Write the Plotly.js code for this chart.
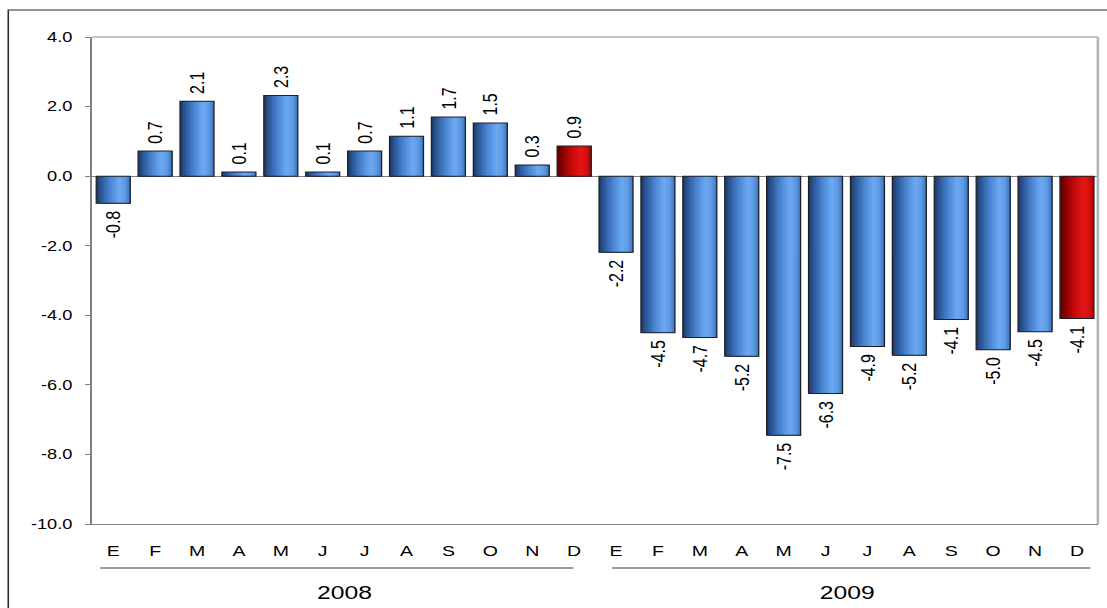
<!DOCTYPE html>
<html>
<head>
<meta charset="utf-8">
<script src="https://cdn.plot.ly/plotly-3.0.1.min.js"></script>
<style>
  html, body { margin: 0; padding: 0; background: #ffffff; overflow: hidden; }
  #wrap { width: 1107px; height: 608px; overflow: hidden; }
  #chart { width: 852px; height: 608px; transform: scaleX(1.2993); transform-origin: 0 0; }
</style>
</head>
<body>
<div id="wrap"><div id="chart"></div></div>
<script>
// ---- data ----
const months = ['E','F','M','A','M','J','J','A','S','O','N','D'];
const years = ['2008', '2009'];
const values2008 = [-0.78, 0.72, 2.15, 0.12, 2.32, 0.12, 0.72, 1.15, 1.70, 1.53, 0.32, 0.87];
const values2009 = [-2.19, -4.50, -4.64, -5.18, -7.45, -6.25, -4.90, -5.15, -4.12, -4.99, -4.47, -4.09];
const labels2008 = ['-0.8','0.7','2.1','0.1','2.3','0.1','0.7','1.1','1.7','1.5','0.3','0.9'];
const labels2009 = ['-2.2','-4.5','-4.7','-5.2','-7.5','-6.3','-4.9','-5.2','-4.1','-5.0','-4.5','-4.1'];
const yTickVals = [4, 2, 0, -2, -4, -6, -8, -10];
const yTickText = ['4.0', '2.0', '0.0', '-2.0', '-4.0', '-6.0', '-8.0', '-10.0'];

// ---- derived ----
const monthLabels = months.concat(months);
const values = values2008.concat(values2009);
const labels = labels2008.concat(labels2009);
const xs = values.map((_, i) => i);
const isRed = monthLabels.map((m, i) => (i % 12) === 11);
// small padding between bar end and its rotated label
const padded = labels.map((s, i) => values[i] >= 0 ? '\u00a0' + s : s + '\u00a0');

// ---- gradient styling (cylinder look) ----
const blueStops = [[0, [28, 56, 100]], [0.15, [44, 88, 152]], [0.42, [76, 134, 212]], [0.68, [108, 170, 242]], [0.85, [94, 154, 228]], [1, [62, 114, 188]]];
const redStops  = [[0, [88, 0, 0]], [0.15, [136, 0, 0]], [0.42, [196, 10, 10]], [0.68, [228, 22, 22]], [0.85, [214, 16, 16]], [1, [170, 0, 0]]];
function interp(stops, t) {
  for (let k = 0; k < stops.length - 1; k++) {
    const a = stops[k], b = stops[k + 1];
    if (t >= a[0] && t <= b[0]) {
      const f = (t - a[0]) / (b[0] - a[0]);
      const c = a[1].map((v, j) => Math.round(v + (b[1][j] - v) * f));
      return 'rgb(' + c.join(',') + ')';
    }
  }
  const l = stops[stops.length - 1][1];
  return 'rgb(' + l.join(',') + ')';
}

const W = 0.81;
const N = 24;
const step = W / N;
const traces = [];
for (let i = 0; i < N; i++) {
  const t = (i + 0.5) / N;
  traces.push({
    type: 'bar',
    x: xs,
    y: values,
    width: W - i * step,
    offset: -W / 2 + i * step,
    marker: { color: isRed.map(r => r ? interp(redStops, t) : interp(blueStops, t)), line: { width: 0 } },
    hoverinfo: 'skip',
    showlegend: false
  });
}
traces.push({
  type: 'bar',
  x: xs,
  y: values,
  width: W,
  offset: -W / 2,
  marker: { color: 'rgba(0,0,0,0)', line: { color: '#1e2026', width: 1 } },
  text: padded,
  textposition: 'outside',
  textangle: -90,
  constraintext: 'none',
  textfont: { family: 'Liberation Sans, Arial, sans-serif', size: 16, color: '#000' },
  cliponaxis: false,
  hoverinfo: 'skip',
  showlegend: false
});

// horizontal stretch of the picture
const S = 1107 / 852;
// plot area in picture pixels: x 92..1098, y 37..524
const L = 92, R = 1098, T = 37, B = 524;
const px = x => (x - L) / (R - L);
const py = y => (B - y) / (B - T);

const layout = {
  width: 852, height: 608,
  margin: { l: L / S, r: (1107 - R) / S, t: T, b: 608 - B, pad: 0 },
  paper_bgcolor: '#ffffff',
  plot_bgcolor: '#ffffff',
  barmode: 'overlay',
  font: { family: 'Liberation Sans, Arial, sans-serif', size: 15, color: '#000' },
  xaxis: {
    range: [-0.5, 23.5],
    tickmode: 'array',
    tickvals: xs,
    ticktext: monthLabels,
    ticks: '',
    showgrid: false,
    zeroline: false,
    showline: true,
    linecolor: '#808080',
    linewidth: 1,
    ticklabelstandoff: 13,
    tickfont: { family: 'Liberation Sans, Arial, sans-serif', size: 15, color: '#000' },
    fixedrange: true
  },
  yaxis: {
    range: [-10, 4],
    tickmode: 'array',
    tickvals: yTickVals,
    ticktext: yTickText,
    ticks: 'outside',
    ticklen: 4,
    tickcolor: '#808080',
    tickwidth: 1,
    showgrid: false,
    zeroline: true,
    zerolinecolor: '#808080',
    zerolinewidth: 1,
    showline: true,
    linecolor: '#808080',
    linewidth: 1.5,
    ticklabelstandoff: 7,
    tickfont: { family: 'Liberation Sans, Arial, sans-serif', size: 14, color: '#000' },
    fixedrange: true
  },
  shapes: [
    // outer frame
    { type: 'rect', xref: 'paper', yref: 'paper', x0: px(8), x1: px(1120), y0: py(640), y1: py(10), line: { color: '#2a2a2a', width: 1.2 }, fillcolor: 'rgba(0,0,0,0)', layer: 'below' },
    // plot area top / right border
    { type: 'line', xref: 'paper', yref: 'paper', x0: 0, x1: 1, y0: 1, y1: 1, line: { color: '#c4c4c4', width: 2 } },
    { type: 'line', xref: 'paper', yref: 'paper', x0: 1, x1: 1, y0: 0, y1: 1, line: { color: '#b4b4b4', width: 2 } },
    // year group lines
    { type: 'line', xref: 'x', yref: 'paper', x0: -0.31, x1: 10.98, y0: py(568), y1: py(568), line: { color: '#7a7a7a', width: 1.5 } },
    { type: 'line', xref: 'x', yref: 'paper', x0: 11.9, x1: 23.32, y0: py(568), y1: py(568), line: { color: '#7a7a7a', width: 1.5 } }
  ],
  annotations: [
    { xref: 'x', yref: 'paper', x: 5.5, y: py(592), text: years[0], showarrow: false, xanchor: 'center', yanchor: 'middle', font: { family: 'Liberation Sans, Arial, sans-serif', size: 19, color: '#000' } },
    { xref: 'x', yref: 'paper', x: 17.5, y: py(592), text: years[1], showarrow: false, xanchor: 'center', yanchor: 'middle', font: { family: 'Liberation Sans, Arial, sans-serif', size: 19, color: '#000' } }
  ]
};

Plotly.newPlot('chart', traces, layout, { staticPlot: true, displayModeBar: false });
</script>
</body>
</html>
